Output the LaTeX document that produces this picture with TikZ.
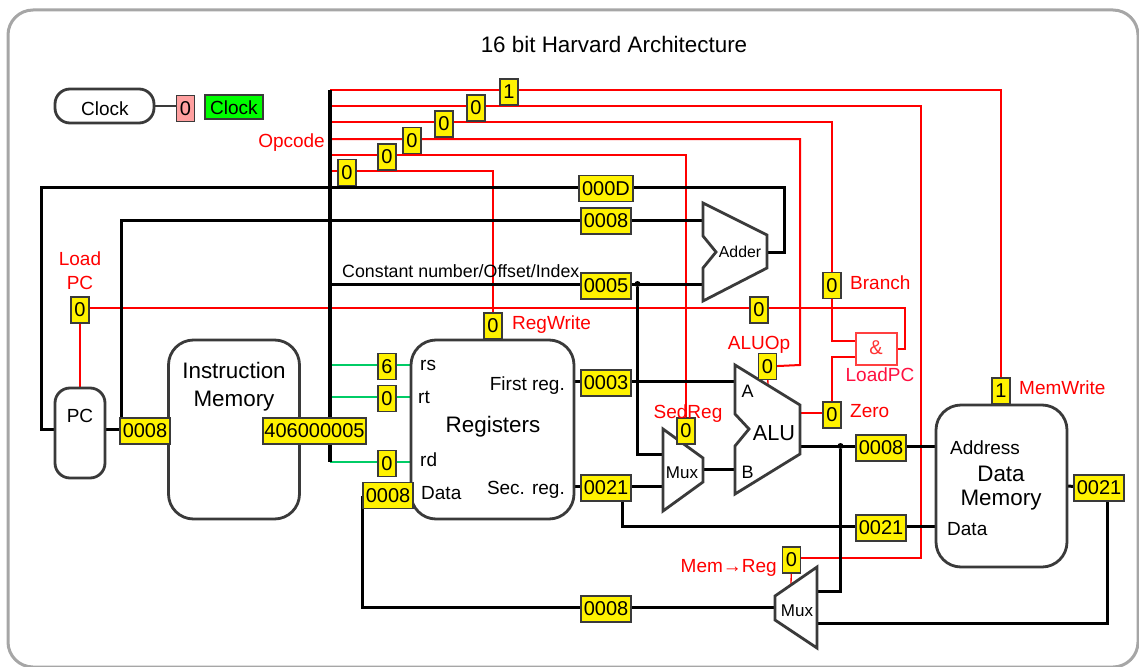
\documentclass[tikz,border=0pt]{standalone}
\usepackage{fontspec}
\setmainfont{Liberation Sans}
\usetikzlibrary{backgrounds}
\newcommand{\fsz}[1]{\fontsize{#1}{#1}\selectfont}
\definecolor{unit gray}{HTML}{3A3A3A}
\definecolor{frame gray}{HTML}{A6A6A6}
\definecolor{reg green}{HTML}{00CC66}
\definecolor{clock pink}{HTML}{FFA0A0}
\definecolor{gate red}{HTML}{FF1040}

\begin{document}
\begin{tikzpicture}[x=1pt,y=-1pt,
        unit/.style={draw=unit gray, line width=2.8, fill=white, rounded corners=#1, inner sep=0},
        unit/.default=25,
        block/.style={draw=unit gray, line width=2.8, fill=white, line join=miter},
        bus/.style={draw=black, line width=3},
        ctl/.style={draw=red, line width=1.3},
        sel/.style={draw=reg green, line width=2},
        bitv/.style={draw=unit gray, line width=1.4, fill=yellow, inner sep=0, minimum width=18, minimum height=26, font=\fsz{20}},
        wordv/.style={bitv, minimum width=50},
        txt/.style={anchor=base, inner sep=0, font=\fsz{19}},
        big/.style={anchor=base, inner sep=0, font=\fsz{22.4}},
        red txt/.style={txt, text=red}]
        \useasboundingbox (0,0) rectangle (1139,666);

        % units
        \node[unit=15, minimum width=99,  minimum height=34]  (clockbtn) at (104.5,106)   {};
        \node[unit=15, minimum width=50,  minimum height=90]  (pc)       at (80,433)    {};
        \node[unit,    minimum width=131, minimum height=179] (imem)     at (234,429.5) {};
        \node[unit,    minimum width=163, minimum height=179] (regs)     at (492.5,429.5) {};
        \node[unit,    minimum width=131, minimum height=162] (dmem)     at (1001.5,486) {};

        \draw[block] (703,203)--(767,235)--(767,268)--(703,301)--(703,268)--(716,252)--(703,236)--cycle;
        \draw[block] (663,429)--(703,458)--(703,482)--(663,511)--cycle;
        \draw[block] (735,365)--(800,405)--(800,454)--(735,494)--(735,446)--(749,429)--(735,414)--cycle;
        \draw[block] (817,567)--(817,648)--(775,620)--(775,596)--cycle;

        \node[draw=red!75, line width=1.4, fill=white, minimum width=41, minimum height=32, inner sep=0] (andgate) at (876.5,349) {};

        % value boxes
        \node[bitv, fill=clock pink]  (clockv)   at (185.5,108.5) {0};
        \node[draw=unit gray, line width=1.4, fill=green, inner sep=0, minimum width=58, minimum height=24] (clockg) at (234,107) {};
        \node[bitv]                   (memwritev) at (509,92)    {1};
        \node[bitv]                   (opbv)     at (476,108)   {0};
        \node[bitv]                   (opcv)     at (444,124)   {0};
        \node[bitv]                   (opdv)     at (412,140.5) {0};
        \node[bitv]                   (opev)     at (387,157)   {0};
        \node[bitv]                   (opfv)     at (347,172.5) {0};
        \node[wordv, minimum width=54] (nextv)   at (606,188.5) {000D};
        \node[wordv]                  (pcplusv)  at (606,221)   {0008};
        \node[wordv]                  (constv)   at (606,286)   {0005};
        \node[bitv]                   (loadv)    at (80,310)    {0};
        \node[bitv]                   (loadmidv) at (759,310)   {0};
        \node[bitv]                   (branchv)  at (832,285.5) {0};
        \node[bitv]                   (regwritev) at (493,326)  {0};
        \node[wordv]                  (pcv)      at (145,431)   {0008};
        \node[wordv, minimum width=103] (instrv) at (314.5,431) {406000005};
        \node[bitv]                   (rsv)      at (387,366.5) {6};
        \node[bitv]                   (rtv)      at (387,398.5) {0};
        \node[bitv]                   (rdv)      at (387,463.5) {0};
        \node[wordv]                  (datav)    at (388,495.5) {0008};
        \node[wordv]                  (firstv)   at (606,383)   {0003};
        \node[wordv]                  (secv)     at (606,488)   {0021};
        \node[bitv]                   (seqregv)  at (686,431)   {0};
        \node[bitv]                   (aluopv)   at (767.5,366.5) {0};
        \node[bitv]                   (zerov)    at (832,415)   {0};
        \node[wordv]                  (addrv)    at (881,448)   {0008};
        \node[wordv]                  (writev)   at (881,528)   {0021};
        \node[bitv]                   (memwrv)   at (1001,391)  {1};
        \node[wordv]                  (readv)    at (1099,488)  {0021};
        \node[bitv]                   (memregv)  at (791.5,560) {0};
        \node[wordv]                  (backv)    at (606,609)   {0008};

        % labels
        \node[txt, font=\fsz{22.4}] (title) at (614,53) {16 bit Harvard Architecture};
        \node[txt] (clocktxt)  at (105,115) {Clock};
        \node[txt] (clockgtxt) at (234,114) {Clock};
        \node[red txt, anchor=base east] (opcode) at (325,147) {Opcode};
        \node[txt, font=\fsz{17.8}, anchor=base west] (consttxt) at (342,277) {Constant number/Offset/Index};
        \node[red txt] (loadtxt)   at (80,265) {Load};
        \node[red txt] (loadtxtb)  at (80,289) {PC};
        \node[red txt, anchor=base west] (regwritetxt) at (512,329) {RegWrite};
        \node[red txt, anchor=base west] (branchtxt)   at (850,289) {Branch};
        \node[red txt] (aluoptxt)  at (759,349) {ALUOp};
        \node[red txt, text=gate red] (loadpctxt) at (880,381) {LoadPC};
        \node[red txt, anchor=base west] (zerotxt)     at (850,417) {Zero};
        \node[red txt, anchor=base west] (memwritetxt) at (1019,394) {MemWrite};
        \node[red txt] (seqregtxt) at (688,418) {SedReg};
        \node[red txt, anchor=base east] (memregtxt)   at (777,572) {Mem→Reg};
        \node[txt, text=red!80, font=\fsz{20}] (andtxt) at (876,354) {\&};
        \node[txt]  (pctxt)    at (80,422)  {PC};
        \node[big]  (imemtxt)  at (234,378) {Instruction};
        \node[big]  (imemtxtb) at (234,406) {Memory};
        \node[big]  (regstxt)  at (493,432) {Registers};
        \node[txt, anchor=base west] (rstxt)   at (420,370) {rs};
        \node[txt, anchor=base west] (rttxt)   at (418,403) {rt};
        \node[txt, anchor=base west] (rdtxt)   at (420,466) {rd};
        \node[txt, anchor=base west] (datatxt) at (421,499) {Data};
        \node[txt, anchor=base east] (firsttxt) at (565,390) {First reg.};
        \node[txt, anchor=base east] (sectxt)  at (565,494) {Sec. reg.};
        \node[txt, font=\fsz{15.8}] (addertxt) at (740,257) {Adder};
        \node[txt, font=\fsz{17}]   (muxtxt)   at (682,478) {Mux};
        \node[txt, font=\fsz{17}]   (muxbtxt)  at (797,616) {Mux};
        \node[big, font=\fsz{21.7}] (alutxt)   at (774,440) {ALU};
        \node[txt, font=\rmfamily\fsz{18}] (atxt) at (747.5,397) {A};
        \node[txt, font=\rmfamily\fsz{18}] (btxt) at (747.5,478) {B};
        \node[txt, anchor=base west] (addrtxt)  at (950,454) {Address};
        \node[big] (dmemtxt)  at (1001,481) {Data};
        \node[big] (dmemtxtb) at (1001,505) {Memory};
        \node[txt, anchor=base west] (wdatatxt) at (947,535) {Data};

        \coordinate (busTop)  at (330,90);
        \coordinate (busEnd)  at (330,462);
        \coordinate (opB)     at (330,106);
        \coordinate (opC)     at (330,122);
        \coordinate (opD)     at (330,139);
        \coordinate (opE)     at (330,155);
        \coordinate (opF)     at (330,171);
        \coordinate (constOut) at (330,284);
        \coordinate (busRs)   at (330,365);
        \coordinate (busRt)   at (330,397);
        \coordinate (regRs)   at (411,365);
        \coordinate (regRt)   at (411,397);
        \coordinate (regRd)   at (411,462);
        \coordinate (adderOut) at (767,252);
        \coordinate (adderA)  at (703,220);
        \coordinate (adderB)  at (703,284);
        \coordinate (addTurn) at (784,187);
        \coordinate (pcLoop)  at (41,187);
        \coordinate (pcIn)    at (55,429);
        \coordinate (pcOut)   at (105,429);
        \coordinate (fetchUp) at (121,429);
        \coordinate (instrIn) at (168,429);
        \coordinate (regsA)   at (574,381);
        \coordinate (aluA)    at (735,381);
        \coordinate (regsB)   at (574,486);
        \coordinate (muxAb)   at (663,486);
        \coordinate (muxAa)   at (663,454);
        \coordinate (secTap)  at (622,486);
        \coordinate (dmemData) at (936,526);
        \coordinate (muxAOut) at (703,469.5);
        \coordinate (aluB)    at (735,469.5);
        \coordinate (aluOut)  at (800,446);
        \coordinate (dmemAddr) at (936,446);
        \coordinate (muxBa)   at (817,591);
        \coordinate (muxBb)   at (817,623);
        \coordinate (muxBOut) at (775,607);
        \coordinate (dmemOut) at (1067,486);
        \coordinate (readTap) at (1107,486);
        \coordinate (memTurn) at (921,558);
        \coordinate (brTurn)  at (832,341);
        \coordinate (andA)    at (856,341);
        \coordinate (andB)    at (856,357);
        \coordinate (andOut)  at (897,349);
        \coordinate (andTurn) at (905,349);
        \coordinate (aluTurn) at (800,365);
        \coordinate (aluOpIn) at (768,387);
        \coordinate (aluZero) at (800,413);
        \coordinate (zeroRow) at (832,413);
        \coordinate (loadRow) at (80,308);
        \coordinate (muxBSel) at (791,585);

        \begin{scope}[on background layer]
          \draw[frame gray, line width=3, rounded corners=25, fill=white] (8,10) rectangle (1138,667);

          \draw[draw=unit gray, line width=1.4] (clockbtn) -- (clockbtn -| clockv);

          % control lines
          \draw[ctl] (busTop) -| (memwrv);
          \draw[ctl] (opB) -| (memTurn) -- (memregv.east |- memTurn);
          \draw[ctl] (opC) -| (brTurn) -- (andA);
          \draw[ctl, line width=2] (opD) -| (aluTurn) -- (aluopv);
          \draw[ctl] (opE) -| (seqregv);
          \draw[ctl] (opF) -| (regwritev);
          \draw[ctl] (loadRow) -| (andTurn) -- (andOut);
          \draw[ctl] (loadv) -- (pc);
          \draw[ctl] (aluZero) -- (zeroRow);
          \draw[ctl] (zerov) |- (andB);
          \draw[ctl] (aluopv) -- (aluOpIn);
          \draw[ctl] (memregv) -- (muxBSel);

          % register selects
          \draw[sel] (busRs) -- (regRs);
          \draw[sel] (busRt) -- (regRt);
          \draw[sel] (busEnd) -- (regRd);

          % data paths
          \draw[bus, line width=4] (busTop) -- (busEnd);
          \draw[bus] (adderOut) -| (addTurn) -- (pcLoop) |- (pcIn);
          \draw[bus] (pcOut) -- (instrIn);
          \draw[bus] (fetchUp) |- (adderA);
          \draw[bus] (constOut) -- (adderB);
          \draw[bus] (regsA) -- (aluA);
          \draw[bus] (regsB) -- (muxAb);
          \draw[bus] (secTap) |- (dmemData);
          \draw[bus] (muxAOut) -- (aluB);
          \draw[bus] (aluOut) -- (dmemAddr);
          \draw[bus] (dmemOut) -- (readv);
          \draw[bus] (readTap) |- (muxBb);
          \draw[bus] (muxBOut) -| (datav.west);
          \node[circle, fill=black, inner sep=0, minimum size=6] (constdot) at (637.5,284) {};
          \node[circle, fill=black, inner sep=0, minimum size=6] (aludot)   at (840.5,446) {};
          \draw[bus] (constdot) |- (muxAa);
          \draw[bus] (aludot) |- (muxBa);
        \end{scope}
      \end{tikzpicture}
\end{document}
